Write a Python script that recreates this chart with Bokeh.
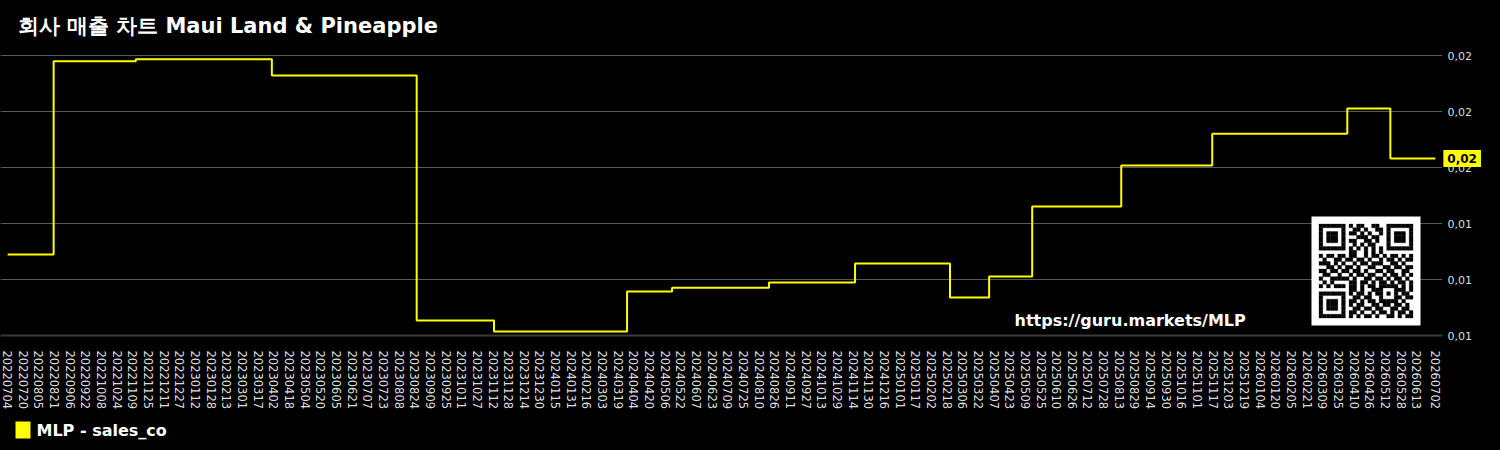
import pandas as pd
from bokeh.plotting import figure
from bokeh.models import FixedTicker, Range1d, Label
from bokeh.embed import file_html
from bokeh.resources import INLINE

# ---------------- data ----------------
TITLE = "회사 매출 차트 Maui Land & Pineapple"
SERIES_NAME = "MLP - sales_co"
WATERMARK = "https://guru.markets/MLP"

# dates at which the value changes (step series), and the value from that date on
CHANGE_DATES = ["20220704", "20220820", "20221112", "20230331", "20230826", "20231113",
                "20240328", "20240513", "20240820", "20241116", "20250221", "20250402",
                "20250516", "20250815", "20251116", "20260403", "20260517"]
END_DATE = "20260702"
VALUES = [0.01289, 0.01980, 0.01987, 0.01929, 0.01054, 0.01014,
          0.01157, 0.01171, 0.01189, 0.01257, 0.01136, 0.01211,
          0.01461, 0.01607, 0.01721, 0.01811, 0.01632]

Y_TICKS = [0.010, 0.012, 0.014, 0.016, 0.018, 0.020]

X_TICK_LABELS = [
    "20220704", "20220720", "20220805", "20220821", "20220906", "20220922", "20221008",
    "20221024", "20221109", "20221125", "20221211", "20221227",
    "20230112", "20230128", "20230213", "20230301", "20230317", "20230402", "20230418",
    "20230504", "20230520", "20230605", "20230621", "20230707", "20230723", "20230808",
    "20230824", "20230909", "20230925", "20231011", "20231027", "20231112", "20231128",
    "20231214", "20231230",
    "20240115", "20240131", "20240216", "20240303", "20240319", "20240404", "20240420",
    "20240506", "20240522", "20240607", "20240623", "20240709", "20240725", "20240810",
    "20240826", "20240911", "20240927", "20241013", "20241029", "20241114", "20241130",
    "20241216",
    "20250101", "20250117", "20250202", "20250218", "20250306", "20250322", "20250407",
    "20250423", "20250509", "20250525", "20250610", "20250626", "20250712", "20250728",
    "20250813", "20250829", "20250914", "20250930", "20251016", "20251101", "20251117",
    "20251203", "20251219",
    "20260104", "20260120", "20260205", "20260221", "20260309", "20260325", "20260410",
    "20260426", "20260512", "20260528", "20260613", "20260702",
]

# QR code modules (decoration), 25 x 25
QR_ROWS = [
    "1111111" + "0" + "101100110" + "0" + "1111111",
    "1000001" + "0" + "011010011" + "0" + "1000001",
    "1011101" + "0" + "110101001" + "0" + "1011101",
    "1011101" + "0" + "001110110" + "0" + "1011101",
    "1011101" + "0" + "110011010" + "0" + "1011101",
    "1000001" + "0" + "010101100" + "0" + "1000001",
    "1111111" + "0" + "101010101" + "0" + "1111111",
    "00000000" + "110010101" + "00000000",
    "101101" + "1" + "011001011010110101",
    "010011" + "0" + "110110100101101011",
    "111010" + "1" + "001011011100110100",
    "001101" + "0" + "110100110011011011",
    "110110" + "1" + "101101001101100110",
    "011001" + "0" + "010110110010110101",
    "100111" + "1" + "101001101101011010",
    "010100" + "0" + "011011010110101101",
    "101011" + "1" + "011010110" + "11111" + "0101",
    "00000000" + "11010011" + "10001" + "1101",
    "1111111" + "0" + "10110101" + "10101" + "0110",
    "1000001" + "0" + "01101100" + "10001" + "1011",
    "1011101" + "0" + "11010110" + "11111" + "0100",
    "1011101" + "0" + "10110011" + "01101" + "1010",
    "1011101" + "0" + "01101101" + "10011" + "0110",
    "1000001" + "0" + "11010010" + "11010" + "1101",
    "1111111" + "0" + "10101101" + "00110" + "1011",
]

# ---------------- derived ----------------
dates = pd.to_datetime(CHANGE_DATES + [END_DATE], format="%Y%m%d")
origin = dates[0]
xs = [int((d - origin).days) for d in dates]
ys = VALUES + [VALUES[-1]]
tick_days = [int((pd.to_datetime(s, format="%Y%m%d") - origin).days) for s in X_TICK_LABELS]

FRAME_W, FRAME_H = 1442, 295
Y_START, Y_END = 0.0100, 0.02054
span = xs[-1] - xs[0]
pad = span * 0.005
X_START, X_END = xs[0] - pad, xs[-1] + pad

YELLOW = "#ffff00"
FONT = "DejaVu Sans"

p = figure(frame_width=FRAME_W, frame_height=FRAME_H,
           x_range=Range1d(X_START, X_END),
           y_range=Range1d(Y_START, Y_END),
           y_axis_location="right",
           output_backend="svg", toolbar_location=None,
           outline_line_color="black",
           min_border_left=0, min_border_right=58, min_border_top=40, min_border_bottom=115)

p.background_fill_color = "black"
p.border_fill_color = "black"

# title
p.title.text = TITLE
p.title.text_color = "white"
p.title.text_font = FONT
p.title.text_font_style = "bold"
p.title.text_font_size = "21px"
p.title.align = "left"
p.title.offset = 17
p.title.standoff = 6

# grids
p.xgrid.visible = False
p.ygrid.ticker = FixedTicker(ticks=Y_TICKS)
p.ygrid.grid_line_color = "#585858"
p.ygrid.grid_line_width = 1

# x axis
xa = p.xaxis[0]
xa.ticker = FixedTicker(ticks=tick_days)
xa.major_label_overrides = {d: s for d, s in zip(tick_days, X_TICK_LABELS)}
xa.major_label_orientation = "vertical"
xa.major_label_text_font = FONT
xa.major_label_text_font_size = "11.5px"
xa.major_label_text_color = "#dddddd"
xa.major_tick_line_color = None
xa.minor_tick_line_color = None
xa.major_tick_out = 0
xa.major_tick_in = 0
xa.minor_tick_out = 0
xa.minor_tick_in = 0
xa.major_label_standoff = 15
xa.axis_line_color = "#3a3a3a"
xa.axis_line_width = 2

# y axis (right)
ya = p.yaxis[0]
ya.ticker = FixedTicker(ticks=Y_TICKS)
ya.major_label_overrides = {t: f"{t:.2f}".replace(".", ",") for t in Y_TICKS}
ya.major_label_text_font = FONT
ya.major_label_text_font_size = "11px"
ya.major_label_text_color = "#dddddd"
ya.major_tick_line_color = None
ya.minor_tick_line_color = None
ya.major_tick_out = 0
ya.major_tick_in = 0
ya.minor_tick_out = 0
ya.minor_tick_in = 0
ya.major_label_standoff = 5
ya.axis_line_color = None

# QR code (decoration) in frame pixel space
p.extra_x_ranges = {"qx": Range1d(0, FRAME_W)}
p.extra_y_ranges = {"qy": Range1d(0, FRAME_H)}
QR_LEFT, QR_BOTTOM, QR_SIZE = 1311, 10, 109
n = len(QR_ROWS)
mod = QR_SIZE / (n + 4)
p.quad(left=[QR_LEFT], right=[QR_LEFT + QR_SIZE], bottom=[QR_BOTTOM], top=[QR_BOTTOM + QR_SIZE],
       fill_color="white", line_color=None, x_range_name="qx", y_range_name="qy")
ql, qr, qb, qt = [], [], [], []
for r, row in enumerate(QR_ROWS):
    row = row.ljust(n, "0")[:n]
    for c, ch in enumerate(row):
        if ch == "1":
            x0 = QR_LEFT + (c + 2) * mod
            y1 = QR_BOTTOM + QR_SIZE - (r + 2) * mod
            ql.append(x0); qr.append(x0 + mod)
            qt.append(y1); qb.append(y1 - mod)
p.quad(left=ql, right=qr, bottom=qb, top=qt, fill_color="black", line_color="black",
       line_width=0.3, x_range_name="qx", y_range_name="qy")

# series
p.step(x=xs, y=ys, mode="after", line_color=YELLOW, line_width=2)


# helpers: pixel offsets from the frame's top-left corner -> data coordinates
def px_x(px):
    return X_START + px * (X_END - X_START) / FRAME_W


def px_y(py):
    return Y_END - py * (Y_END - Y_START) / FRAME_H


# legend (swatch + label), kept in a side panel so it is not clipped by the frame
LEG_MID = 389.5   # vertical centre of the legend row, below the frame top
p.add_layout(Label(x=px_x(15), y=px_y(LEG_MID), text="\u2003",
                   text_baseline="middle", text_align="left",
                   text_font=FONT, text_font_size="11px", text_color=YELLOW,
                   background_fill_color=YELLOW, padding=2), "right")
p.add_layout(Label(x=px_x(36), y=px_y(LEG_MID), text=SERIES_NAME,
                   text_baseline="middle", text_align="left",
                   text_font=FONT, text_font_size="16px", text_font_style="bold",
                   text_color="white"), "right")

# watermark
p.add_layout(Label(x=1014, y=15, x_units="screen", y_units="screen", text=WATERMARK,
                   text_color="white", text_font=FONT, text_font_style="bold",
                   text_font_size="16px", text_baseline="middle"))

# last value badge (in the right panel, so it is not clipped by the frame)
badge = Label(x=xs[-1], y=ys[-1], text=f"{ys[-1]:.2f}".replace(".", ","),
              x_offset=8, text_baseline="middle", text_align="left",
              text_color="black", text_font=FONT, text_font_style="bold",
              text_font_size="12px", background_fill_color=YELLOW, padding=4)
p.add_layout(badge, "right")

html = file_html(p, INLINE, title="MLP")
html = html.replace("</head>",
                    "<style>html,body{margin:0;padding:0;background:#000;overflow:hidden;}</style></head>", 1)
open("out.html", "w").write(html)
